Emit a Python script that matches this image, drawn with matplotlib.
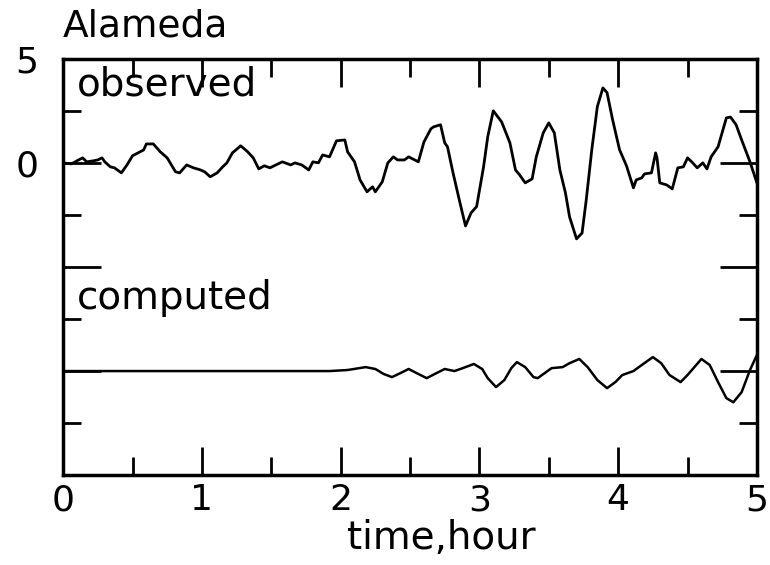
import matplotlib
matplotlib.use('Agg')
import matplotlib.pyplot as plt
from matplotlib.ticker import MultipleLocator

# observed record (hours, offset units)
obs_t = [0.00, 0.06, 0.10, 0.14, 0.17, 0.22, 0.25, 0.28, 0.30, 0.34, 0.37,
         0.42, 0.46, 0.50, 0.54, 0.58, 0.60, 0.65, 0.70, 0.75, 0.81, 0.84,
         0.89, 0.94, 0.99, 1.02, 1.06, 1.11, 1.15, 1.18, 1.22, 1.28, 1.33,
         1.37, 1.41, 1.45, 1.49, 1.58, 1.64, 1.67, 1.72, 1.77, 1.80, 1.84,
         1.87, 1.92, 1.97, 2.03, 2.05, 2.10, 2.14, 2.19, 2.23, 2.25, 2.30,
         2.34, 2.38, 2.41, 2.46, 2.49, 2.56, 2.60, 2.65, 2.67, 2.72, 2.75,
         2.77, 2.81, 2.86, 2.90, 2.94, 2.98, 3.03, 3.06, 3.10, 3.16, 3.22,
         3.26, 3.29, 3.33, 3.38, 3.41, 3.46, 3.50, 3.54, 3.58, 3.62, 3.65,
         3.70, 3.74, 3.77, 3.81, 3.85, 3.89, 3.92, 3.96, 4.01, 4.06, 4.11,
         4.13, 4.17, 4.19, 4.24, 4.27, 4.28, 4.30, 4.35, 4.39, 4.43, 4.47,
         4.50, 4.53, 4.57, 4.61, 4.64, 4.67, 4.72, 4.78, 4.81, 4.85, 4.89,
         4.95, 5.00]
obs_y = [0.00, -0.05, 0.10, 0.24, 0.05, 0.10, 0.14, 0.24, 0.05, -0.19, -0.24,
         -0.48, -0.10, 0.34, 0.48, 0.62, 0.91, 0.91, 0.53, 0.24, -0.43, -0.48,
         -0.10, -0.24, -0.34, -0.43, -0.67, -0.48, -0.19, 0.00, 0.48, 0.82, 0.53,
         0.24, -0.29, -0.14, -0.24, 0.05, -0.10, 0.00, -0.10, -0.34, 0.05, 0.00,
         0.38, 0.29, 1.06, 1.10, 0.53, 0.05, -0.82, -1.39, -1.15, -1.39, -0.91,
         0.00, 0.29, 0.14, 0.14, 0.29, 0.05, 1.00, 1.63, 1.73, 1.83, 0.96,
         0.77, -0.48, -1.92, -3.03, -2.40, -2.10, -0.19, 1.25, 2.50, 1.97, 0.96,
         -0.34, -0.58, -0.96, -0.77, 0.29, 1.44, 1.92, 1.44, -0.34, -1.44, -2.60,
         -3.65, -3.37, -1.78, 0.63, 2.70, 3.60, 3.37, 2.07, 0.63, -0.14, -1.20,
         -0.82, -0.72, -0.53, -0.48, 0.48, 0.24, -0.96, -1.06, -1.25, -0.24, -0.19,
         0.24, 0.05, -0.24, 0.00, -0.29, 0.29, 0.77, 2.16, 2.20, 1.83, 1.10,
         0.05, -0.96]

# computed record
cmp_t = [0.00, 1.92, 2.05, 2.18, 2.25, 2.31, 2.37, 2.43, 2.49, 2.56, 2.62,
         2.69, 2.75, 2.82, 2.88, 2.96, 3.02, 3.06, 3.12, 3.18, 3.23, 3.27,
         3.33, 3.39, 3.42, 3.47, 3.52, 3.60, 3.65, 3.72, 3.78, 3.85, 3.92,
         3.98, 4.03, 4.11, 4.17, 4.25, 4.31, 4.37, 4.45, 4.50, 4.60, 4.66,
         4.72, 4.78, 4.83, 4.89, 4.95, 5.00]
cmp_y = [0.00, 0.00, 0.05, 0.19, 0.10, -0.14, -0.29, -0.10, 0.10, -0.14, -0.34,
         -0.10, 0.10, 0.00, 0.14, 0.34, 0.10, -0.34, -0.77, -0.43, 0.14, 0.43,
         0.19, -0.29, -0.34, -0.10, 0.14, 0.19, 0.38, 0.58, 0.19, -0.43, -0.82,
         -0.53, -0.19, 0.00, 0.29, 0.67, 0.38, -0.19, -0.53, -0.19, 0.58, 0.29,
         -0.53, -1.30, -1.50, -1.01, 0.05, 0.77]

obs_offset = 0
cmp_offset = -10

fig = plt.figure(figsize=(7.7, 5.65), dpi=100)
ax = fig.add_axes([0.082, 0.159, 0.901, 0.737])

ax.plot(obs_t, [v + obs_offset for v in obs_y], c='black', lw=2,
        solid_joinstyle='round')
ax.plot(cmp_t, [v + cmp_offset for v in cmp_y], c='black', lw=1.8,
        solid_joinstyle='round')

ax.set_xlim(0, 5)
ax.set_ylim(-15, 5)

for s in ax.spines.values():
    s.set_linewidth(2.5)

ax.set_xticks([0, 1, 2, 3, 4, 5])
ax.xaxis.set_minor_locator(MultipleLocator(0.5))
ax.set_yticks([5, 0, -5, -10, -15])
ax.set_yticklabels(['5', '0', '', '', ''])
ax.yaxis.set_minor_locator(MultipleLocator(2.5))
ax.tick_params(which='both', direction='in', top=True, right=True,
               width=2, labelsize=26)
ax.tick_params(axis='x', which='major', length=20, pad=6)
ax.tick_params(axis='x', which='minor', length=13)
ax.tick_params(axis='y', which='major', length=27, pad=18)
ax.tick_params(axis='y', which='minor', length=13)

ax.set_xlabel('time,hour', fontsize=28, labelpad=1, x=0.545)
ax.text(0.0, 1.035, 'Alameda', transform=ax.transAxes, fontsize=27,
        ha='left', va='bottom')
ax.text(0.1, 3.75, 'observed', fontsize=28, ha='left', va='center')
ax.text(0.1, -6.5, 'computed', fontsize=28, ha='left', va='center')

fig.savefig('out.png', dpi=100)
